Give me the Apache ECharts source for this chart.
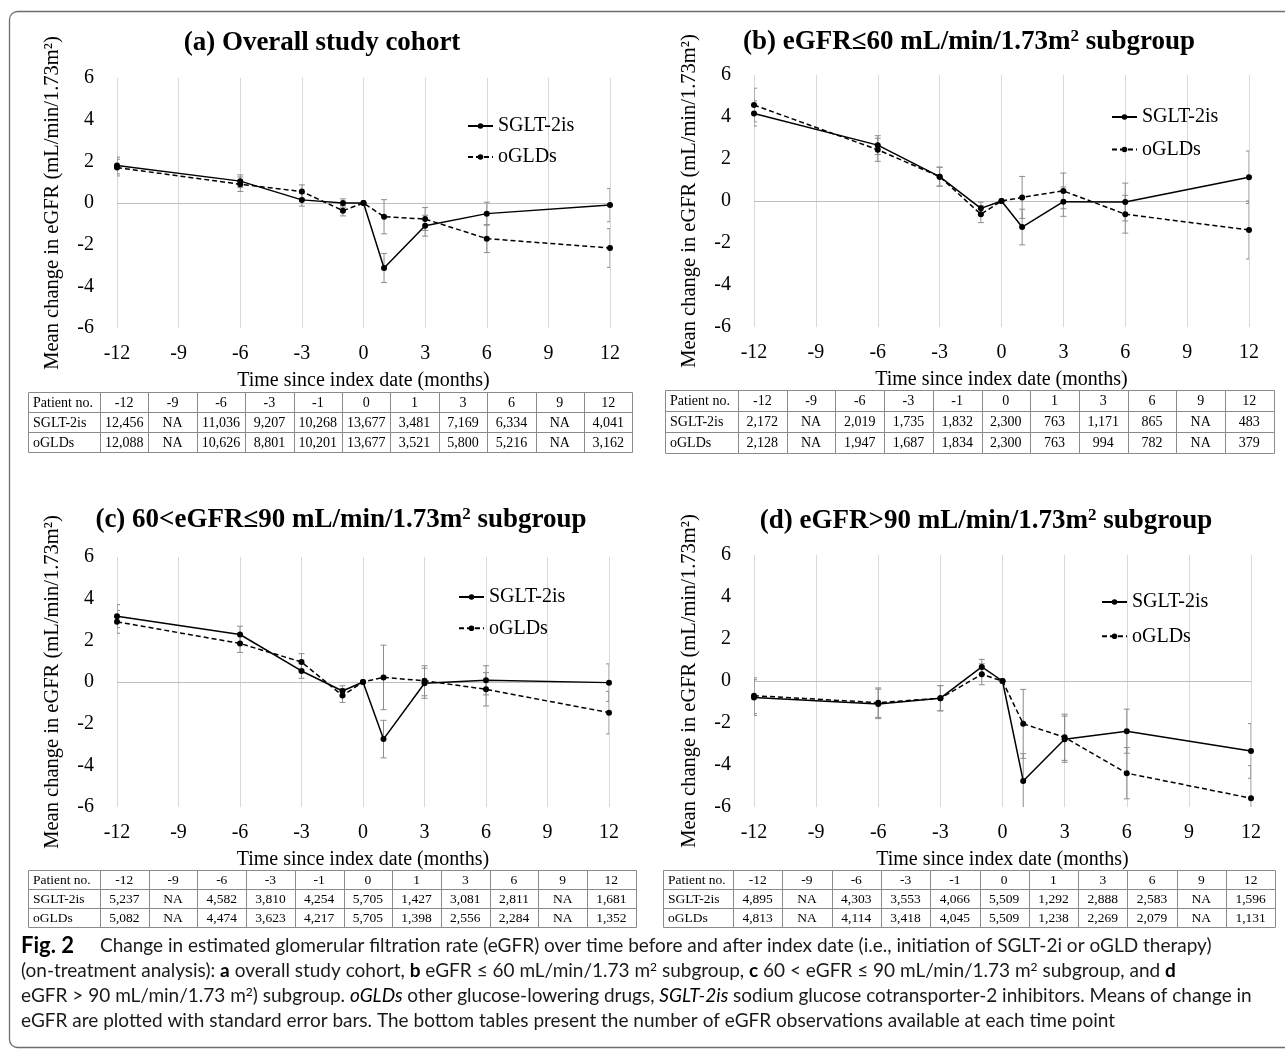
<!DOCTYPE html>
<html><head><meta charset="utf-8">
<script src="https://cdn.jsdelivr.net/npm/echarts@6/dist/echarts.min.js"></script>
<style>html,body{margin:0;padding:0;background:#fff}#c{width:1285px;height:1054px}</style>
</head><body><div id="c"></div>
<script>
// ---------- data ----------
const months = [-12, -6, -3, -1, 0, 1, 3, 6, 12];
const xTicks = [-12, -9, -6, -3, 0, 3, 6, 9, 12];

const A_sglt    = [1.80, 1.05, 0.15, 0.00, 0, -3.12, -1.09, -0.51, -0.10];
const A_sglt_se = [0.40, 0.30, 0.30, 0.20, 0, 0.70, 0.50, 0.55, 0.80];
const A_ogld    = [1.70, 0.90, 0.55, -0.37, 0, -0.66, -0.77, -1.71, -2.16];
const A_ogld_se = [0.40, 0.35, 0.32, 0.25, 0, 0.82, 0.55, 0.67, 0.93];

const B_sglt    = [4.17, 2.66, 1.16, -0.35, 0, -1.24, -0.03, -0.05, 1.13];
const B_sglt_se = [0.60, 0.45, 0.45, 0.30, 0, 0.85, 0.70, 0.90, 1.25];
const B_ogld    = [4.57, 2.44, 1.16, -0.63, 0, 0.17, 0.48, -0.63, -1.38];
const B_ogld_se = [0.80, 0.55, 0.45, 0.40, 0, 1.00, 0.85, 0.90, 1.38];

const C_sglt    = [3.16, 2.28, 0.53, -0.43, 0, -2.74, -0.06, 0.08, -0.03];
const C_sglt_se = [0.55, 0.40, 0.35, 0.25, 0, 0.90, 0.72, 0.70, 0.90];
const C_ogld    = [2.89, 1.85, 0.96, -0.65, 0, 0.22, 0.06, -0.35, -1.47];
const C_ogld_se = [0.55, 0.43, 0.40, 0.33, 0, 1.55, 0.72, 0.80, 1.02];

const D_sglt    = [-0.79, -1.09, -0.82, 0.67, 0, -4.76, -2.77, -2.39, -3.33];
const D_sglt_se = [0.85, 0.70, 0.60, 0.36, 0, 1.30, 1.10, 1.05, 1.30];
const D_ogld    = [-0.70, -1.03, -0.82, 0.32, 0, -2.04, -2.68, -4.39, -5.58];
const D_ogld_se = [0.85, 0.70, 0.60, 0.50, 0, 1.64, 1.10, 1.22, 1.55];

const tableHead = ['Patient no.', '-12', '-9', '-6', '-3', '-1', '0', '1', '3', '6', '9', '12'];
const A_n_sglt = ['12,456','NA','11,036','9,207','10,268','13,677','3,481','7,169','6,334','NA','4,041'];
const A_n_ogld = ['12,088','NA','10,626','8,801','10,201','13,677','3,521','5,800','5,216','NA','3,162'];
const B_n_sglt = ['2,172','NA','2,019','1,735','1,832','2,300','763','1,171','865','NA','483'];
const B_n_ogld = ['2,128','NA','1,947','1,687','1,834','2,300','763','994','782','NA','379'];
const C_n_sglt = ['5,237','NA','4,582','3,810','4,254','5,705','1,427','3,081','2,811','NA','1,681'];
const C_n_ogld = ['5,082','NA','4,474','3,623','4,217','5,705','1,398','2,556','2,284','NA','1,352'];
const D_n_sglt = ['4,895','NA','4,303','3,553','4,066','5,509','1,292','2,888','2,583','NA','1,596'];
const D_n_ogld = ['4,813','NA','4,114','3,418','4,045','5,509','1,238','2,269','2,079','NA','1,131'];

const seriesNames = ['SGLT-2is', 'oGLDs'];
const yAxisName = 'Mean change in eGFR (mL/min/1.73m²)';
const xAxisName = 'Time since index date (months)';

// ---------- layout ----------
const SERIF = 'Liberation Serif';
const SANS = 'Lato';
const panels = [
  { title: '(a) Overall study cohort', tx: 322, ty: 43,
    grid: {left: 117, top: 78, width: 493, height: 250},
    legend: {left: 462, top: 111, gap: 11},
    s: A_sglt, sse: A_sglt_se, o: A_ogld, ose: A_ogld_se,
    table: {left: 28, firstW: 72, cellW: 48.4, top: 392, rowH: 20, fs: 14, rows: [A_n_sglt, A_n_ogld]} },
  { title: '(b) eGFR≤60 mL/min/1.73m{sup|2} subgroup', tx: 969, ty: 42,
    grid: {left: 754, top: 75, width: 495, height: 252},
    legend: {left: 1106, top: 102, gap: 12.5},
    s: B_sglt, sse: B_sglt_se, o: B_ogld, ose: B_ogld_se,
    table: {left: 665, firstW: 73, cellW: 48.7, top: 390, rowH: 21, fs: 14, rows: [B_n_sglt, B_n_ogld]} },
  { title: '(c) 60<eGFR≤90 mL/min/1.73m{sup|2} subgroup', tx: 341, ty: 520,
    grid: {left: 117, top: 557, width: 492, height: 250},
    legend: {left: 453, top: 582, gap: 11.3},
    s: C_sglt, sse: C_sglt_se, o: C_ogld, ose: C_ogld_se,
    table: {left: 28, firstW: 72, cellW: 48.7, top: 870, rowH: 19, fs: 13.5, rows: [C_n_sglt, C_n_ogld]} },
  { title: '(d) eGFR>90 mL/min/1.73m{sup|2} subgroup', tx: 986, ty: 521,
    grid: {left: 754, top: 555, width: 497, height: 252},
    legend: {left: 1096, top: 587, gap: 14.3},
    s: D_sglt, sse: D_sglt_se, o: D_ogld, ose: D_ogld_se,
    table: {left: 663, firstW: 70, cellW: 49.3, top: 870, rowH: 19, fs: 13.5, rows: [D_n_sglt, D_n_ogld]} }
];

function errRender(params, api) {
  const x = api.value(0), y = api.value(1), e = api.value(2);
  if (!e) return null;
  const t = api.coord([x, y + e]), b = api.coord([x, y - e]);
  const cap = 3;
  const style = {stroke: '#8c8c8c', lineWidth: 1};
  return {type: 'group', children: [
    {type: 'line', shape: {x1: t[0], y1: t[1], x2: b[0], y2: b[1]}, style},
    {type: 'line', shape: {x1: t[0] - cap, y1: t[1], x2: t[0] + cap, y2: t[1]}, style},
    {type: 'line', shape: {x1: b[0] - cap, y1: b[1], x2: b[0] + cap, y2: b[1]}, style}
  ]};
}

const grids = [], xAxes = [], yAxes = [], series = [], legends = [], graphics = [];

panels.forEach((p, i) => {
  grids.push(Object.assign({containLabel: false}, p.grid));
  xAxes.push({
    type: 'value', gridIndex: i, min: -12, max: 12, interval: 3,
    axisLine: {show: false}, axisTick: {show: false},
    splitLine: {show: true, lineStyle: {color: '#d9d9d9', width: 1}},
    axisLabel: {fontFamily: SERIF, fontSize: 20, color: '#000', margin: 16},
    name: xAxisName, nameLocation: 'middle', nameGap: 43,
    nameTextStyle: {fontFamily: SERIF, fontSize: 20, color: '#000'}
  });
  yAxes.push({
    type: 'value', gridIndex: i, min: -6, max: 6, interval: 2,
    axisLine: {show: false}, axisTick: {show: false}, splitLine: {show: false},
    axisLabel: {fontFamily: SERIF, fontSize: 20, color: '#000', margin: 23},
    name: yAxisName, nameLocation: 'middle', nameGap: 54,
    nameTextStyle: {fontFamily: SERIF, fontSize: 20.5, color: '#000'}
  });
  const mk = (arr) => months.map((m, k) => [m, arr[k]]);
  const mke = (arr, se) => months.map((m, k) => [m, arr[k], se[k]]);
  series.push({
    type: 'custom', name: 'se_s' + i, xAxisIndex: i, yAxisIndex: i, renderItem: errRender,
    data: mke(p.s, p.sse), encode: {x: 0, y: 1}, z: 1, silent: true, clip: true
  });
  series.push({
    type: 'custom', name: 'se_o' + i, xAxisIndex: i, yAxisIndex: i, renderItem: errRender,
    data: mke(p.o, p.ose), encode: {x: 0, y: 1}, z: 1, silent: true, clip: true
  });
  series.push({
    type: 'line', name: seriesNames[0], xAxisIndex: i, yAxisIndex: i, data: mk(p.s),
    symbol: 'circle', symbolSize: 6, itemStyle: {color: '#000'},
    lineStyle: {color: '#000', width: 1.5, type: 'solid'}, z: 3, animation: false,
    markLine: {silent: true, symbol: 'none', label: {show: false}, z: 0,
      lineStyle: {color: '#bfbfbf', width: 1.2, type: 'solid'},
      data: [[{coord: [-12, 0]}, {coord: [12, 0]}]]}
  });
  series.push({
    type: 'line', name: seriesNames[1], xAxisIndex: i, yAxisIndex: i, data: mk(p.o),
    symbol: 'circle', symbolSize: 6, itemStyle: {color: '#000'},
    lineStyle: {color: '#000', width: 1.5, type: [5, 3]}, z: 3, animation: false
  });
  legends.push({
    orient: 'vertical', left: p.legend.left, top: p.legend.top, itemGap: p.legend.gap,
    itemWidth: 25, itemHeight: 7, data: seriesNames, selectedMode: false,
    textStyle: {fontFamily: SERIF, fontSize: 20, color: '#000'}
  });
  graphics.push({
    type: 'text', x: p.tx, y: p.ty,
    style: {text: p.title, fontFamily: SERIF, fontSize: 27, fontWeight: 'bold', fill: '#000',
      align: 'center', verticalAlign: 'middle',
      rich: {sup: {fontFamily: SERIF, fontSize: 17, fontWeight: 'bold', fill: '#000', verticalAlign: 'top'}}}
  });
  // table
  const t = p.table;
  const rows = [tableHead, [seriesNames[0]].concat(t.rows[0]), [seriesNames[1]].concat(t.rows[1])];
  rows.forEach((row, r) => {
    row.forEach((cell, c) => {
      const x = c === 0 ? t.left : t.left + t.firstW + (c - 1) * t.cellW;
      const w = c === 0 ? t.firstW : t.cellW;
      const y = t.top + r * t.rowH;
      graphics.push({type: 'rect', shape: {x: Math.round(x) + 0.5, y: Math.round(y) + 0.5,
        width: Math.round(x + w) - Math.round(x), height: Math.round(y + t.rowH) - Math.round(y)},
        style: {fill: 'none', stroke: '#8a8a8a', lineWidth: 1}, silent: true});
      graphics.push({type: 'text', x: c === 0 ? x + 5 : x + w / 2, y: y + t.rowH / 2 + 1,
        style: {text: cell, fontFamily: SERIF, fontSize: t.fs, fill: '#000',
          align: c === 0 ? 'left' : 'center', verticalAlign: 'middle'}, silent: true});
    });
  });
});

// frame
graphics.unshift({type: 'rect', shape: {x: 9.5, y: 11.5, width: 1300, height: 1036, r: 8},
  style: {fill: 'none', stroke: '#6e6e6e', lineWidth: 1.3}, silent: true, z: -1});

// caption
const capLines = [
  {x: 100, text: 'Change in estimated glomerular filtration rate (eGFR) over time before and after index date (i.e., initiation of SGLT-2i or oGLD therapy)'},
  {x: 21, text: '(on-treatment analysis): {b|a} overall study cohort, {b|b} eGFR ≤ 60 mL/min/1.73 m{sup|2} subgroup, {b|c} 60 < eGFR ≤ 90 mL/min/1.73 m{sup|2} subgroup, and {b|d}'},
  {x: 21, text: 'eGFR > 90 mL/min/1.73 m{sup|2}) subgroup. {i|oGLDs} other glucose-lowering drugs, {i|SGLT-2is} sodium glucose cotransporter-2 inhibitors. Means of change in'},
  {x: 21, text: 'eGFR are plotted with standard error bars. The bottom tables present the number of eGFR observations available at each time point'}
];
const capY = [946, 971, 996, 1021];
const capFs = 19;
const capRich = {
  b: {fontFamily: SANS, fontSize: capFs, fontWeight: 'bold', fill: '#000'},
  i: {fontFamily: SANS, fontSize: capFs, fontStyle: 'italic', fill: '#000'},
  sup: {fontFamily: SANS, fontSize: 12, fill: '#000', verticalAlign: 'top'}
};
graphics.push({type: 'text', x: 21, y: capY[0],
  style: {text: 'Fig. 2', fontFamily: SANS, fontSize: 22, fontWeight: 'bold', fill: '#000', verticalAlign: 'middle'}});
capLines.forEach((l, k) => {
  graphics.push({type: 'text', x: l.x, y: capY[k],
    style: {text: l.text, fontFamily: SANS, fontSize: capFs, fill: '#1a1a1a', verticalAlign: 'middle', rich: capRich}});
});

const chart = echarts.init(document.getElementById('c'), null, {renderer: 'canvas'});
chart.setOption({
  animation: false,
  backgroundColor: '#fff',
  grid: grids, xAxis: xAxes, yAxis: yAxes, series, legend: legends, graphic: graphics
});
</script></body></html>
